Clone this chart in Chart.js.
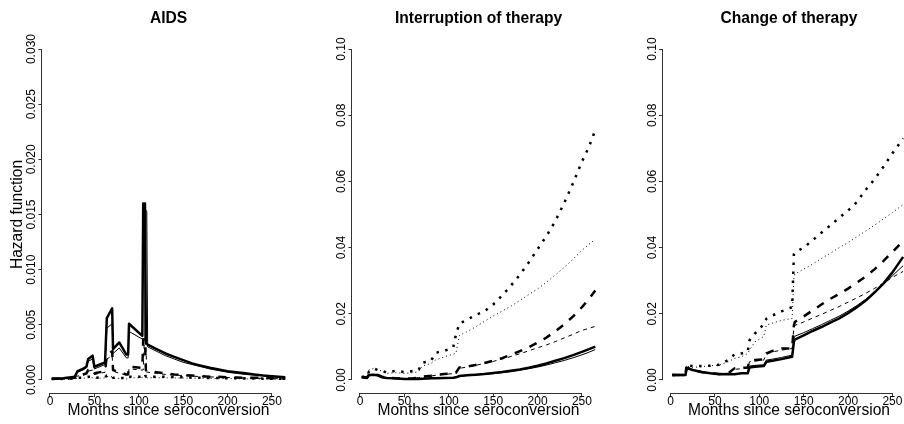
<!DOCTYPE html>
<html>
<head>
<meta charset="utf-8">
<script src="https://cdn.jsdelivr.net/npm/chart.js@4/dist/chart.umd.min.js"></script>
<style>
html,body{margin:0;padding:0;background:#fff;width:904px;height:424px;overflow:hidden;position:relative}
canvas{position:absolute;top:0}
</style>
</head>
<body>
<canvas id="c1"></canvas>
<canvas id="c2"></canvas>
<canvas id="c3"></canvas>
<script>
// ---------- ticks ----------
const xTickValues = [0, 50, 100, 150, 200, 250];
const xTickLabels = ['0', '50', '100', '150', '200', '250'];
const aidsYTicks = [0, 0.005, 0.01, 0.015, 0.02, 0.025, 0.03];
const aidsYLabels = ['0.000', '0.005', '0.010', '0.015', '0.020', '0.025', '0.030'];
const therapyYTicks = [0, 0.02, 0.04, 0.06, 0.08, 0.1];
const therapyYLabels = ['0.00', '0.02', '0.04', '0.06', '0.08', '0.10'];

// ---------- panel 1: AIDS ----------
const aidsMonths = [2, 15, 28, 31, 37, 41, 43, 48, 50, 62, 64, 70, 71, 78, 86, 88, 89, 104, 105, 106, 107, 108, 109, 110, 120, 130, 140, 150, 160, 170, 180, 190, 200, 210, 220, 230, 240, 250, 265];
const aidsSolidThick = [0.0001, 0.00015, 0.0003, 0.0008, 0.001, 0.0012, 0.0019, 0.0022, 0.0012, 0.0016, 0.0056, 0.0065, 0.0028, 0.0034, 0.0023, 0.0023, 0.0051, 0.0040, 0.0160, 0.0160, 0.0157, 0.0033, 0.0033, 0.0032, 0.0028, 0.0024, 0.0021, 0.0018, 0.0015, 0.0013, 0.0011, 0.00095, 0.0008, 0.0007, 0.0006, 0.0005, 0.0004, 0.00033, 0.00025];
const aidsSolidThin = [0.0001, 0.00013, 0.00027, 0.0007, 0.0009, 0.0011, 0.0017, 0.0019, 0.001, 0.0014, 0.0047, 0.0051, 0.0024, 0.0029, 0.002, 0.002, 0.0044, 0.0037, 0.0036, 0.0036, 0.0155, 0.0154, 0.0153, 0.0030, 0.0026, 0.0022, 0.0019, 0.0016, 0.0014, 0.0012, 0.001, 0.00085, 0.0007, 0.0006, 0.0005, 0.00045, 0.0004, 0.0003, 0.00022];
const aidsDashThick = [0.0001, 0.0001, 0.0002, 0.0004, 0.0005, 0.0006, 0.0009, 0.001, 0.0006, 0.0008, 0.0022, 0.0026, 0.0009, 0.0007, 0.0005, 0.0005, 0.0012, 0.0011, 0.0037, 0.0037, 0.0036, 0.0009, 0.0008, 0.0008, 0.0007, 0.0006, 0.0005, 0.00045, 0.0004, 0.00035, 0.0003, 0.0003, 0.00025, 0.00022, 0.0002, 0.0002, 0.00018, 0.00015, 0.00012];
const aidsDashThin = [0.0001, 0.0001, 0.00018, 0.00035, 0.00045, 0.0005, 0.0008, 0.0009, 0.0005, 0.0007, 0.0019, 0.0022, 0.0008, 0.0006, 0.00045, 0.00045, 0.001, 0.0009, 0.0009, 0.0032, 0.0031, 0.0031, 0.0007, 0.0007, 0.0006, 0.0005, 0.00045, 0.0004, 0.00035, 0.0003, 0.00028, 0.00025, 0.00022, 0.0002, 0.00018, 0.00016, 0.00015, 0.00012, 0.0001];
const aidsDotThick = [0.00008, 0.0001, 0.00015, 0.0002, 0.0002, 0.00025, 0.0003, 0.0003, 0.0002, 0.00025, 0.0004, 0.0004, 0.0002, 0.0002, 0.00015, 0.00015, 0.0003, 0.0003, 0.0005, 0.0005, 0.0005, 0.0003, 0.0003, 0.0003, 0.0003, 0.00028, 0.00026, 0.00024, 0.00022, 0.0002, 0.00018, 0.00017, 0.00016, 0.00015, 0.00014, 0.00013, 0.00012, 0.00011, 0.0001];
const aidsDotThin = [0.00005, 0.00008, 0.0001, 0.00015, 0.00015, 0.00018, 0.0002, 0.0002, 0.00015, 0.00018, 0.0003, 0.0003, 0.00015, 0.00015, 0.0001, 0.0001, 0.0002, 0.0002, 0.0004, 0.0004, 0.0004, 0.0002, 0.0002, 0.0002, 0.0002, 0.0002, 0.00018, 0.00017, 0.00016, 0.00015, 0.00014, 0.00013, 0.00012, 0.00011, 0.0001, 0.0001, 0.00009, 0.00008, 0.00007];

// ---------- panel 2: Interruption of therapy ----------
const intMonths = [2, 8, 10, 15, 20, 25, 30, 40, 50, 60, 66, 70, 80, 85, 95, 105, 108, 112, 120, 130, 140, 150, 160, 170, 180, 190, 200, 210, 220, 230, 240, 250, 258, 265];
const intSolidThick = [0.0008, 0.0006, 0.0015, 0.0016, 0.0014, 0.0008, 0.0006, 0.0005, 0.0003, 0.0003, 0.0003, 0.0004, 0.0005, 0.0005, 0.0006, 0.0007, 0.0008, 0.0012, 0.0014, 0.0016, 0.0018, 0.0021, 0.0024, 0.0028, 0.0032, 0.0037, 0.0043, 0.005, 0.0058, 0.0066, 0.0075, 0.0085, 0.0093, 0.0101];
const intSolidThin = [0.0008, 0.0006, 0.0014, 0.0015, 0.0013, 0.0007, 0.0005, 0.0004, 0.0003, 0.0003, 0.0003, 0.0004, 0.0004, 0.0005, 0.0005, 0.0006, 0.0007, 0.0011, 0.0013, 0.0015, 0.0017, 0.0019, 0.0022, 0.0025, 0.0029, 0.0034, 0.0039, 0.0045, 0.0052, 0.0059, 0.0067, 0.0076, 0.0084, 0.0092];
const intDashThick = [0.0008, 0.0008, 0.0015, 0.0017, 0.0015, 0.001, 0.0007, 0.0005, 0.0004, 0.0005, 0.0007, 0.001, 0.0013, 0.0015, 0.0018, 0.002, 0.0022, 0.0038, 0.004, 0.0045, 0.0051, 0.0058, 0.0066, 0.0076, 0.0087, 0.0099, 0.0113, 0.0128, 0.0147, 0.0168, 0.0192, 0.022, 0.0245, 0.027];
const intDashThin = [0.0008, 0.0008, 0.0015, 0.0016, 0.0014, 0.0009, 0.0006, 0.0005, 0.0004, 0.0005, 0.0007, 0.0009, 0.0012, 0.0014, 0.0017, 0.0019, 0.002, 0.0035, 0.0039, 0.0044, 0.005, 0.0056, 0.0063, 0.0071, 0.0079, 0.0088, 0.0097, 0.0106, 0.0116, 0.0127, 0.0138, 0.015, 0.0156, 0.0162];
const intDotThick = [0.001, 0.001, 0.0025, 0.0035, 0.003, 0.0028, 0.0022, 0.0028, 0.0024, 0.0027, 0.003, 0.0052, 0.0058, 0.0082, 0.0088, 0.0098, 0.0136, 0.0171, 0.0181, 0.0196, 0.0207, 0.0228, 0.0255, 0.0285, 0.0318, 0.0355, 0.0395, 0.0435, 0.048, 0.0535, 0.0595, 0.066, 0.0705, 0.0755];
const intDotThin = [0.001, 0.001, 0.003, 0.0035, 0.003, 0.0027, 0.002, 0.0022, 0.002, 0.0022, 0.0025, 0.0042, 0.005, 0.006, 0.007, 0.0078, 0.008, 0.0135, 0.0145, 0.016, 0.0177, 0.0193, 0.0208, 0.0223, 0.024, 0.0258, 0.0275, 0.0295, 0.0317, 0.034, 0.0365, 0.0392, 0.041, 0.0425];

// ---------- panel 3: Change of therapy ----------
const chgMonths = [2, 10, 17, 18, 25, 35, 45, 55, 65, 72, 80, 87, 89, 95, 105, 108, 115, 125, 137, 139, 140, 150, 160, 170, 180, 190, 200, 210, 220, 230, 240, 250, 262];
const chgSolidThick = [0.0015, 0.0015, 0.0015, 0.0037, 0.003, 0.0024, 0.002, 0.0017, 0.0018, 0.0017, 0.002, 0.002, 0.0038, 0.004, 0.0042, 0.0055, 0.0058, 0.0063, 0.007, 0.0115, 0.0122, 0.0135, 0.0148, 0.016, 0.0173, 0.0186, 0.0202, 0.022, 0.024, 0.0265, 0.0292, 0.0325, 0.0372];
const chgSolidThin = [0.0015, 0.0015, 0.0015, 0.0037, 0.003, 0.0024, 0.002, 0.0017, 0.0018, 0.0017, 0.002, 0.0021, 0.0042, 0.0044, 0.0046, 0.006, 0.0063, 0.0068, 0.0075, 0.0125, 0.0132, 0.0143, 0.0155, 0.0167, 0.018, 0.0193, 0.0208, 0.0225, 0.0244, 0.0265, 0.0288, 0.0315, 0.0345];
const chgDashThick = [0.0015, 0.0015, 0.0015, 0.0037, 0.003, 0.0024, 0.002, 0.0018, 0.002, 0.0035, 0.0037, 0.0038, 0.0058, 0.006, 0.0062, 0.008, 0.0088, 0.0095, 0.0095, 0.0165, 0.0175, 0.0192, 0.021, 0.0228, 0.0245, 0.026, 0.0276, 0.0294, 0.0313, 0.0335, 0.036, 0.0387, 0.042];
const chgDashThin = [0.0015, 0.0015, 0.0015, 0.0037, 0.003, 0.0024, 0.002, 0.0018, 0.002, 0.0032, 0.0034, 0.0035, 0.0055, 0.0057, 0.006, 0.0078, 0.0085, 0.009, 0.0095, 0.016, 0.0165, 0.0175, 0.0187, 0.0198, 0.021, 0.0222, 0.0235, 0.0248, 0.0262, 0.0277, 0.0293, 0.031, 0.0328];
const chgDotThick = [0.0015, 0.0015, 0.0015, 0.0045, 0.0042, 0.0042, 0.0043, 0.0046, 0.006, 0.0077, 0.008, 0.0085, 0.012, 0.014, 0.0168, 0.0185, 0.0195, 0.0207, 0.022, 0.038, 0.0385, 0.04, 0.0422, 0.0445, 0.0467, 0.049, 0.0512, 0.0538, 0.0575, 0.0607, 0.0645, 0.0685, 0.073];
const chgDotThin = [0.0015, 0.0015, 0.0015, 0.0042, 0.0038, 0.004, 0.0043, 0.0045, 0.0055, 0.0065, 0.007, 0.008, 0.009, 0.0115, 0.0131, 0.0166, 0.0172, 0.018, 0.0186, 0.031, 0.032, 0.0335, 0.035, 0.0367, 0.0383, 0.04, 0.0415, 0.0433, 0.045, 0.0468, 0.0487, 0.0506, 0.053];

// ---------- styling ----------
const FONT = "'Liberation Sans', Arial, Helvetica, sans-serif";
const INK = '#000';
const AXIS = '#333';
const lineStyles = {
  solidThick: {borderWidth: 2.5, borderDash: []},
  solidThin:  {borderWidth: 1,   borderDash: []},
  dashThick:  {borderWidth: 2.5, borderDash: [8, 8]},
  dashThin:   {borderWidth: 1,   borderDash: [4, 4]},
  dotThick:   {borderWidth: 2.5, borderDash: [2.5, 6.5]},
  dotThin:    {borderWidth: 1,   borderDash: [1, 3]}
};

function measureWidest(labels) {
  const c = document.createElement('canvas').getContext('2d');
  c.font = "12px " + FONT;
  return Math.max(...labels.map(l => c.measureText(l).width));
}

// R-style axis lines spanning first..last tick only
const rAxes = {
  id: 'rAxes',
  afterDraw(chart) {
    const {ctx, chartArea, scales: {x, y}} = chart;
    ctx.save();
    ctx.strokeStyle = AXIS;
    ctx.lineWidth = 1;
    ctx.beginPath();
    const yb = Math.round(chartArea.bottom) + 0.5;
    ctx.moveTo(x.getPixelForValue(x.ticks[0].value), yb);
    ctx.lineTo(x.getPixelForValue(x.ticks[x.ticks.length - 1].value), yb);
    const xl = Math.round(chartArea.left) - 0.5;
    ctx.moveTo(xl, y.getPixelForValue(y.ticks[0].value));
    ctx.lineTo(xl, y.getPixelForValue(y.ticks[y.ticks.length - 1].value));
    ctx.stroke();
    ctx.restore();
  }
};

function makePanel(id, p) {
  const cv = document.getElementById(id);
  cv.width = p.canvasWidth; cv.height = 424;
  cv.style.left = p.canvasLeft + 'px';
  cv.style.width = p.canvasWidth + 'px'; cv.style.height = '424px';
  const widest = measureWidest(p.yLabels);
  const datasets = p.series.map(s => Object.assign({
    data: p.months.map((m, i) => ({x: m, y: s.values[i]})),
    borderColor: INK,
    backgroundColor: INK,
    pointRadius: 0,
    tension: 0,
    fill: false,
    borderCapStyle: 'butt',
    borderJoinStyle: 'round'
  }, lineStyles[s.style]));
  const grid = {display: true, drawOnChartArea: false, drawTicks: true, tickLength: 4, color: AXIS, lineWidth: 1};
  new Chart(cv, {
    type: 'line',
    data: {datasets},
    plugins: [rAxes],
    options: {
      responsive: false,
      animation: false,
      events: [],
      layout: {padding: {left: 0, top: 0, bottom: 0, right: p.padRight}},
      plugins: {
        legend: {display: false},
        tooltip: {enabled: false},
        title: {
          display: true, text: p.title, color: INK, fullSize: false,
          font: {family: FONT, size: 15.6, weight: 'bold', lineHeight: 1.2},
          padding: {top: 9, bottom: 8.08}
        }
      },
      scales: {
        x: {
          type: 'linear', min: -8.5, max: 275.5,
          afterBuildTicks: s => { s.ticks = xTickValues.map(v => ({value: v})); },
          afterFit: s => { s.height = 30.8; },
          ticks: {autoSkip: false, minRotation: 0, maxRotation: 0, padding: -1.9, color: INK,
                  font: {family: FONT, size: 12, lineHeight: 1},
                  callback: (v, i) => xTickLabels[i]},
          grid: grid,
          border: {display: false},
          title: {display: true, text: 'Months since seroconversion', color: INK,
                  font: {family: FONT, size: 15.6, lineHeight: 1.2}, padding: {top: 0, bottom: 3.6}}
        },
        y: {
          type: 'linear', min: p.yMin, max: p.yMax,
          afterBuildTicks: s => { s.ticks = p.yTicks.map(v => ({value: v})); },
          afterFit: s => { s.width = p.yAxisWidth; },
          ticks: {autoSkip: false, minRotation: 90, maxRotation: 90, crossAlign: 'center',
                  padding: 6.5 - widest / 2, color: INK,
                  font: {family: FONT, size: 12, lineHeight: 1},
                  callback: (v, i) => p.yLabels[i]},
          grid: grid,
          border: {display: false},
          title: p.yTitle ? {display: true, text: p.yTitle, color: INK,
                  font: {family: FONT, size: 15.6, lineHeight: 1.2}, padding: {top: 8.1, bottom: 0}}
                  : {display: false}
        }
      }
    }
  });
}

makePanel('c1', {
  title: 'AIDS', canvasLeft: 0, canvasWidth: 301, yAxisWidth: 42.45, padRight: 6.4,
  yMin: -0.0012, yMax: 0.0312, yTicks: aidsYTicks, yLabels: aidsYLabels, yTitle: 'Hazard function',
  months: aidsMonths,
  series: [
    {values: aidsDotThin, style: 'dotThin'},
    {values: aidsDotThick, style: 'dotThick'},
    {values: aidsDashThin, style: 'dashThin'},
    {values: aidsDashThick, style: 'dashThick'},
    {values: aidsSolidThin, style: 'solidThin'},
    {values: aidsSolidThick, style: 'solidThick'}
  ]
});
makePanel('c2', {
  title: 'Interruption of therapy', canvasLeft: 301, canvasWidth: 310, yAxisWidth: 51.44, padRight: 6.4,
  yMin: -0.004, yMax: 0.104, yTicks: therapyYTicks, yLabels: therapyYLabels, yTitle: null,
  months: intMonths,
  series: [
    {values: intDotThin, style: 'dotThin'},
    {values: intDotThick, style: 'dotThick'},
    {values: intDashThin, style: 'dashThin'},
    {values: intDashThick, style: 'dashThick'},
    {values: intSolidThin, style: 'solidThin'},
    {values: intSolidThick, style: 'solidThick'}
  ]
});
makePanel('c3', {
  title: 'Change of therapy', canvasLeft: 602, canvasWidth: 320, yAxisWidth: 60.94, padRight: 6.91,
  yMin: -0.004, yMax: 0.104, yTicks: therapyYTicks, yLabels: therapyYLabels, yTitle: null,
  months: chgMonths,
  series: [
    {values: chgDotThin, style: 'dotThin'},
    {values: chgDotThick, style: 'dotThick'},
    {values: chgDashThin, style: 'dashThin'},
    {values: chgDashThick, style: 'dashThick'},
    {values: chgSolidThin, style: 'solidThin'},
    {values: chgSolidThick, style: 'solidThick'}
  ]
});
</script>
</body>
</html>
